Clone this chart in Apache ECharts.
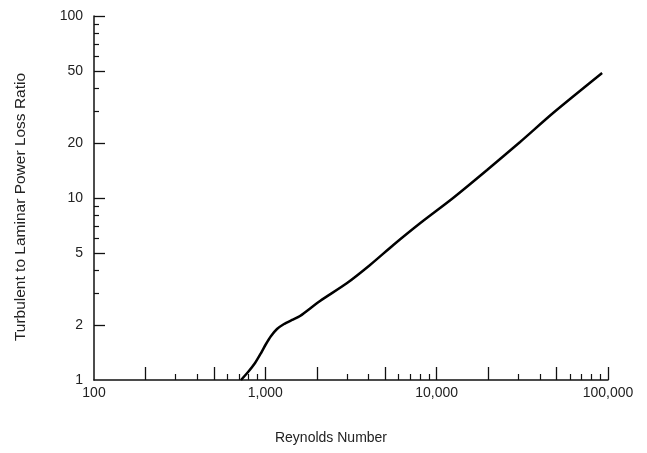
<!DOCTYPE html>
<html><head><meta charset="utf-8">
<script src="https://cdn.jsdelivr.net/npm/echarts@6/dist/echarts.min.js"></script>
<style>html,body{margin:0;padding:0;background:#fff}#c{width:647px;height:453px}</style>
</head><body><div id="c"></div>
<script>
const reynolds = [721, 793, 871, 944, 1009, 1080, 1170, 1286, 1432, 1594, 2086, 2987, 4086, 5587, 7999, 12470, 19690, 30690, 47800, 92400];
const powerLossRatio = [1.0, 1.106, 1.24, 1.407, 1.577, 1.745, 1.906, 2.031, 2.137, 2.247, 2.718, 3.399, 4.285, 5.517, 7.26, 10.0, 14.25, 20.31, 29.3, 48.6];
const xLabelValues = [100, 1000, 10000, 100000];
const xMajorTicks = [200, 500, 1000, 2000, 5000, 10000, 20000, 50000, 100000];
const xMinorTicks = [300, 400, 600, 700, 800, 900, 3000, 4000, 6000, 7000, 8000, 9000, 30000, 40000, 60000, 70000, 80000, 90000];
const yLabelValues = [1, 2, 5, 10, 20, 50, 100];
const yMajorTicks = [2, 5, 10, 20, 50, 100];
const yMinorTicks = [3, 4, 6, 7, 8, 9, 30, 40, 60, 70, 80, 90];

const FONT = '"Liberation Sans", Arial, sans-serif';
const ink = '#111';
const gridBox = {left: 94, right: 39, top: 16, bottom: 73};

const chart = echarts.init(document.getElementById('c'), null, {renderer: 'canvas'});
chart.setOption({
  animation: false,
  backgroundColor: '#fff',
  grid: [Object.assign({}, gridBox), Object.assign({}, gridBox)],
  xAxis: [{
    type: 'log', logBase: 10, min: 100, max: 100000, gridIndex: 0,
    axisLine: {lineStyle: {color: ink, width: 1.5}},
    axisTick: {inside: true, length: 13, customValues: xMajorTicks, lineStyle: {color: ink, width: 1.3}},
    minorTick: {show: false},
    splitLine: {show: false},
    axisLabel: {customValues: xLabelValues, margin: 6, color: '#222', fontSize: 14, fontFamily: FONT,
      formatter: v => Number(v).toLocaleString('en-US')},
    name: 'Reynolds Number', nameLocation: 'middle', nameGap: 51,
    nameTextStyle: {color: '#222', fontSize: 14, fontFamily: FONT, padding: [0, 40, 0, 0]}
  }, {
    type: 'log', logBase: 10, min: 100, max: 100000, gridIndex: 1,
    axisLine: {show: false},
    axisTick: {inside: true, length: 6, customValues: xMinorTicks, lineStyle: {color: ink, width: 1.2}},
    splitLine: {show: false},
    axisLabel: {show: false}
  }],
  yAxis: [{
    type: 'log', logBase: 10, min: 1, max: 100, gridIndex: 0,
    axisLine: {lineStyle: {color: ink, width: 1.5}},
    axisTick: {inside: true, length: 11, customValues: yMajorTicks, lineStyle: {color: ink, width: 1.3}},
    splitLine: {show: false},
    axisLabel: {customValues: yLabelValues, margin: 11, color: '#222', fontSize: 14, fontFamily: FONT},
    name: 'Turbulent to Laminar Power Loss Ratio', nameLocation: 'middle', nameGap: 65, nameRotate: 90,
    nameTextStyle: {color: '#222', fontSize: 15.5, fontFamily: FONT, padding: [0, 18, 0, 0]}
  }, {
    type: 'log', logBase: 10, min: 1, max: 100, gridIndex: 1,
    axisLine: {show: false},
    axisTick: {inside: true, length: 5, customValues: yMinorTicks, lineStyle: {color: ink, width: 1.2}},
    splitLine: {show: false},
    axisLabel: {show: false}
  }],
  series: [{
    type: 'line', xAxisIndex: 0, yAxisIndex: 0,
    data: reynolds.map((r, i) => [r, powerLossRatio[i]]),
    smooth: 0.25, showSymbol: false, symbol: 'none',
    lineStyle: {color: '#000', width: 2.5}
  }]
});
</script>
</body></html>
